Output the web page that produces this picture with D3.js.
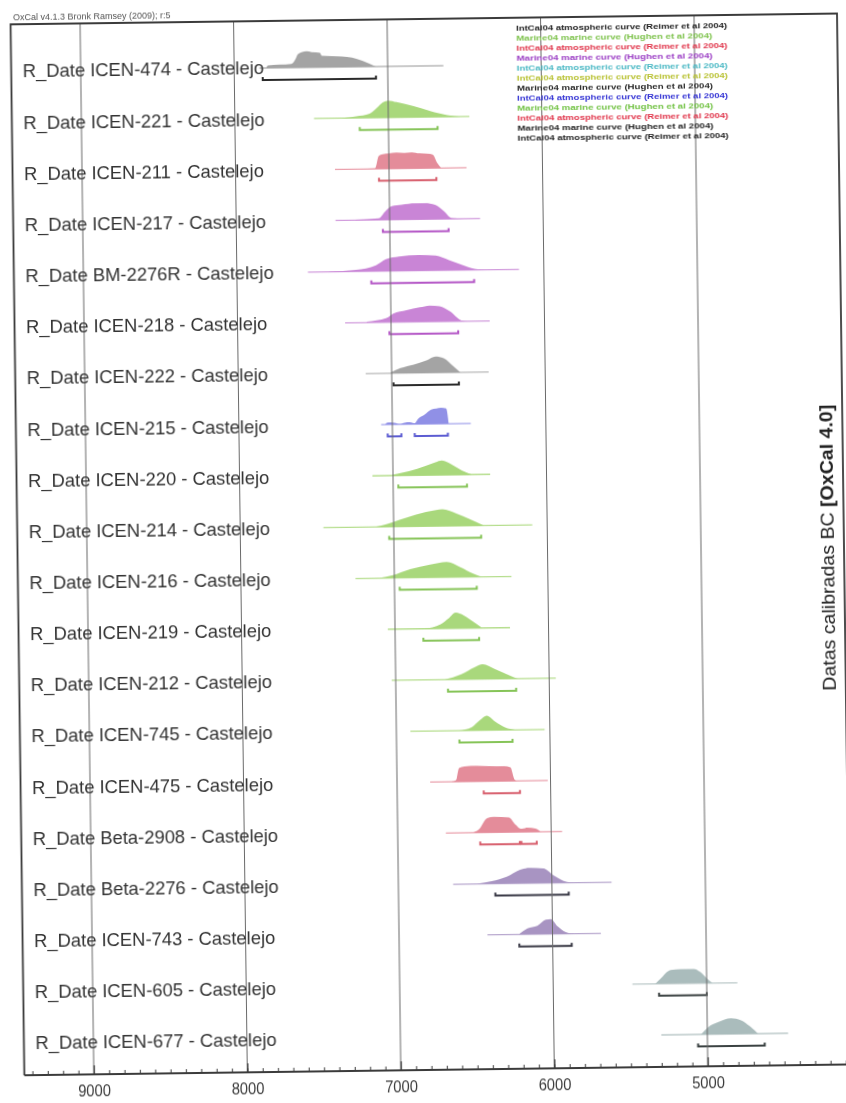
<!DOCTYPE html>
<html>
<head>
<meta charset="utf-8">
<script src="https://cdn.jsdelivr.net/npm/d3@7"></script>
<style>
  html, body { margin: 0; padding: 0; background: #fff; }
  svg { display: block; }
  text { font-family: "Liberation Sans", Arial, sans-serif; }
</style>
</head>
<body>
<svg id="chart" width="846" height="1103"></svg>
<script>
// sample labels, top to bottom
const labels = [
  "R_Date ICEN-474 - Castelejo", "R_Date ICEN-221 - Castelejo", "R_Date ICEN-211 - Castelejo",
  "R_Date ICEN-217 - Castelejo", "R_Date BM-2276R - Castelejo", "R_Date ICEN-218 - Castelejo",
  "R_Date ICEN-222 - Castelejo", "R_Date ICEN-215 - Castelejo", "R_Date ICEN-220 - Castelejo",
  "R_Date ICEN-214 - Castelejo", "R_Date ICEN-216 - Castelejo", "R_Date ICEN-219 - Castelejo",
  "R_Date ICEN-212 - Castelejo", "R_Date ICEN-745 - Castelejo", "R_Date ICEN-475 - Castelejo",
  "R_Date Beta-2908 - Castelejo", "R_Date Beta-2276 - Castelejo", "R_Date ICEN-743 - Castelejo",
  "R_Date ICEN-605 - Castelejo", "R_Date ICEN-677 - Castelejo",
];

// which curve group each sample is drawn in
const groups = [
  "grey", "green", "pink", "purple", "purple", "purple", "grey", "blue", "green", "green",
  "green", "green", "green", "green", "pink", "pink", "mauve", "mauve", "slate", "slate",
];

// calibrated probability profiles: [year BC, relative probability]
const profiles = [
  [[7790, 0], [7781, 0.15], [7627, 0.22], [7600, 0.5], [7583, 0.8], [7528, 0.95], [7495, 0.9], [7440, 0.85], [7429, 0.68], [7363, 0.65], [7297, 0.62], [7231, 0.55], [7165, 0.35], [7088, 0.05], [7075, 0]],
  [[7300, 0], [7209, 0.1], [7121, 0.25], [7077, 0.55], [7033, 0.9], [7000, 1.0], [6945, 0.9], [6835, 0.65], [6726, 0.35], [6616, 0.1], [6528, 0]],
  [[7300, 0], [7090, 0.04], [7066, 0.75], [7040, 0.85], [7000, 0.9], [6950, 0.95], [6900, 0.92], [6850, 0.95], [6800, 0.88], [6750, 0.85], [6714, 0.8], [6685, 0.3], [6660, 0]],
  [[7223, 0.03], [7071, 0.1], [7028, 0.5], [6985, 0.8], [6920, 0.88], [6833, 0.95], [6768, 0.95], [6703, 0.85], [6649, 0.5], [6595, 0.05], [6520, 0]],
  [[7396, 0.02], [7223, 0.1], [7093, 0.35], [7028, 0.7], [6942, 0.85], [6812, 0.92], [6703, 0.88], [6617, 0.6], [6531, 0.3], [6444, 0.05], [6380, 0]],
  [[7158, 0.05], [7028, 0.25], [6985, 0.5], [6898, 0.7], [6812, 0.85], [6747, 0.95], [6682, 0.9], [6617, 0.6], [6541, 0.05], [6500, 0]],
  [[7006, 0.05], [6942, 0.3], [6855, 0.5], [6768, 0.75], [6714, 0.95], [6660, 0.85], [6595, 0.35], [6552, 0]],
  [[7045, 0.02], [7029, 0.12], [6985, 0.1], [6952, 0.02], [6920, 0.1], [6887, 0.12], [6855, 0.05], [6833, 0.3], [6790, 0.55], [6746, 0.85], [6713, 0.9], [6681, 0.95], [6648, 0.9], [6633, 0]],
  [[7004, 0.05], [6896, 0.25], [6788, 0.55], [6723, 0.75], [6681, 0.85], [6616, 0.6], [6551, 0.25], [6486, 0]],
  [[7112, 0.02], [7047, 0.15], [6961, 0.4], [6853, 0.7], [6723, 0.95], [6681, 1.0], [6594, 0.75], [6507, 0.4], [6410, 0]],
  [[7091, 0.02], [7015, 0.15], [6896, 0.5], [6767, 0.75], [6658, 0.9], [6572, 0.6], [6486, 0.2], [6432, 0]],
  [[6810, 0], [6702, 0.25], [6648, 0.6], [6604, 0.92], [6551, 0.75], [6486, 0.35], [6432, 0]],
  [[6681, 0], [6572, 0.3], [6486, 0.7], [6432, 0.88], [6356, 0.6], [6270, 0.25], [6205, 0]],
  [[6594, 0], [6507, 0.2], [6454, 0.6], [6410, 0.85], [6356, 0.5], [6291, 0.15], [6227, 0]],
  [[6640, 0.02], [6615, 0.1], [6595, 0.8], [6560, 0.9], [6480, 0.92], [6400, 0.9], [6300, 0.88], [6260, 0.8], [6235, 0.1], [6220, 0]],
  [[6503, 0.03], [6470, 0.2], [6416, 0.85], [6373, 0.92], [6275, 0.88], [6232, 0.45], [6199, 0.2], [6156, 0.25], [6102, 0.2], [6069, 0]],
  [[6480, 0.02], [6391, 0.15], [6293, 0.4], [6206, 0.8], [6141, 0.9], [6054, 0.85], [5989, 0.45], [5902, 0.05], [5859, 0]],
  [[6217, 0.02], [6163, 0.35], [6098, 0.5], [6043, 0.85], [6010, 0.88], [5967, 0.45], [5913, 0.1], [5859, 0]],
  [[5332, 0.02], [5300, 0.3], [5235, 0.8], [5169, 0.85], [5083, 0.85], [5039, 0.65], [4996, 0.25], [4963, 0]],
  [[5039, 0.02], [4996, 0.4], [4930, 0.7], [4844, 0.92], [4779, 0.8], [4724, 0.45], [4670, 0]],
];

// extent of the thin likelihood line under each profile [from, to] BC
const spans = [
  [7836, 6637], [7484, 6472], [7352, 6495], [7353, 6411], [7537, 6162], [7299, 6357], [7169, 6368],
  [7073, 6489], [7134, 6367], [7458, 6097], [7253, 6237], [7047, 6251], [7026, 5957], [6909, 6034],
  [6784, 6018], [6686, 5929], [6643, 5611], [6424, 5685], [5484, 4800], [5300, 4474],
];

// 95.4% range bars (some split into pieces)
const ranges = [
  [[7815, 7077]], [[7187, 6680]], [[7066, 6692]], [[7045, 6617]], [[7125, 6455]], [[7011, 6563]],
  [[6989, 6563]], [[7031, 6942], [6855, 6639]], [[6966, 6519]], [[7030, 6431]], [[6966, 6464]],
  [[6816, 6453]], [[6660, 6216]], [[6590, 6244]], [[6436, 6200]], [[6463, 6205], [6195, 6095]],
  [[6369, 5891]], [[6217, 5876]], [[5311, 5000]], [[5061, 4627]],
];

const majorTicks = [9000, 8000, 7000, 6000, 5000];

const legendLines = [
  ["IntCal04 atmospheric curve (Reimer et al 2004)", "#222"],
  ["Marine04 marine curve (Hughen et al 2004)", "#7cc24a"],
  ["IntCal04 atmospheric curve (Reimer et al 2004)", "#e0344a"],
  ["Marine04 marine curve (Hughen et al 2004)", "#9a3cc4"],
  ["IntCal04 atmospheric curve (Reimer et al 2004)", "#4ab8c4"],
  ["IntCal04 atmospheric curve (Reimer et al 2004)", "#b9c234"],
  ["Marine04 marine curve (Hughen et al 2004)", "#2a2a2a"],
  ["IntCal04 atmospheric curve (Reimer et al 2004)", "#3434d4"],
  ["Marine04 marine curve (Hughen et al 2004)", "#72c244"],
  ["IntCal04 atmospheric curve (Reimer et al 2004)", "#e0344a"],
  ["Marine04 marine curve (Hughen et al 2004)", "#222"],
  ["IntCal04 atmospheric curve (Reimer et al 2004)", "#222"],
];

const palette = {
  grey:   { fill: "#a4a4a4", line: "#b8b8b8", bar: "#2a2a2a" },
  green:  { fill: "#a9d87c", line: "#b6de8e", bar: "#86c458" },
  pink:   { fill: "#e48c9a", line: "#eaa0ac", bar: "#d8606e" },
  purple: { fill: "#c985d6", line: "#d29ddd", bar: "#b457c6" },
  blue:   { fill: "#9090e6", line: "#a4a4ec", bar: "#5c5cd2" },
  mauve:  { fill: "#a894c2", line: "#b9a9cf", bar: "#3a3a46" },
  slate:  { fill: "#aabcbc", line: "#bccaca", bar: "#3a4242" },
};

const width = 846, height = 1103;
const frame = { left: 17.5, right: 844, top: 19, bottom: 1070 };

const svg = d3.select("#chart");
const defs = svg.append("defs");
defs.append("filter").attr("id", "scan")
  .append("feGaussianBlur").attr("stdDeviation", 0.45);

// the scan is tilted a little, so the whole plot is rotated
const root = svg.append("g")
  .attr("transform", "rotate(-0.75 423 550)")
  .attr("filter", "url(#scan)");

const x = d3.scaleLinear().domain([9000, 5000]).range([87, 701]);
const y = d3.scalePoint().domain(labels).range([66, 1038]);
const h = d3.scaleLinear().domain([0, 1]).range([0, 17]);

// profiles
const plots = root.append("g");
labels.forEach((label, i) => {
  const base = y(label);
  const col = palette[groups[i]];
  const g = plots.append("g");

  g.append("line")
    .attr("x1", x(spans[i][0])).attr("x2", x(spans[i][1]))
    .attr("y1", base).attr("y2", base)
    .attr("stroke", col.line).attr("stroke-width", 1.3);

  const pts = profiles[i].slice().sort((a, b) => b[0] - a[0]);
  const area = d3.area()
    .x((d) => x(d[0]))
    .y0(base)
    .y1((d) => base - h(d[1]))
    .curve(d3.curveMonotoneX);
  g.append("path").datum(pts).attr("d", area).attr("fill", col.fill);

  ranges[i].forEach((r) => {
    const yb = base + 12;
    g.append("path")
      .attr("d", `M${x(r[0])},${yb - 3}V${yb}H${x(r[1])}V${yb - 3}`)
      .attr("fill", "none")
      .attr("stroke", col.bar)
      .attr("stroke-width", 2);
  });
});

// grid lines at each millennium
root.append("g").selectAll("line").data(majorTicks).join("line")
  .attr("x1", (d) => x(d)).attr("x2", (d) => x(d))
  .attr("y1", frame.top).attr("y2", frame.bottom)
  .attr("stroke", "#6a6a6a").attr("stroke-width", 1);

// row labels
root.append("g").selectAll("text").data(labels).join("text")
  .attr("x", 29)
  .attr("y", (d) => y(d))
  .attr("dy", "0.35em")
  .attr("font-size", 18.4)
  .attr("fill", "#333")
  .text((d) => d);

// frame
root.append("path")
  .attr("d", `M${frame.left},${frame.bottom}V${frame.top}H${frame.right}V${frame.bottom}`)
  .attr("fill", "none").attr("stroke", "#3a3a3a").attr("stroke-width", 1.8);

// bottom axis: minor ticks every century, labelled millennia
const minorTicks = d3.range(9400, 4000, -100);
const axisY = frame.bottom;
root.append("g")
  .attr("transform", `translate(0,${axisY})`)
  .call(d3.axisBottom(x).tickValues(minorTicks).tickSize(-4).tickFormat(""))
  .call((g) => g.select(".domain").remove())
  .call((g) => g.selectAll("line").attr("stroke", "#3a3a3a"));

const axis = root.append("g")
  .attr("transform", `translate(0,${axisY})`)
  .call(d3.axisBottom(x).tickValues(majorTicks).tickSize(-9).tickPadding(10).tickFormat(d3.format("d")));
axis.select(".domain").remove();
axis.selectAll("line").attr("stroke", "#3a3a3a").attr("stroke-width", 1.3);
axis.selectAll("text")
  .attr("font-size", 16)
  .attr("font-family", "Liberation Sans, Arial, sans-serif")
  .attr("fill", "#3a3a3a")
  .attr("transform", "scale(0.92,1.05)");

root.append("line")
  .attr("x1", frame.left).attr("x2", frame.right)
  .attr("y1", axisY).attr("y2", axisY)
  .attr("stroke", "#3a3a3a").attr("stroke-width", 2);

// program header
root.append("text")
  .attr("x", 20).attr("y", 15)
  .attr("font-size", 9)
  .attr("fill", "#555")
  .text("OxCal v4.1.3 Bronk Ramsey (2009); r:5");

// curve legend
root.append("g").selectAll("text").data(legendLines).join("text")
  .attr("x", 523)
  .attr("y", (d, i) => 29.5 + i * 10)
  .attr("dy", "0.35em")
  .attr("font-size", 7.8)
  .attr("font-weight", "bold")
  .attr("fill", (d) => d[1])
  .attr("textLength", (d) => (d[0].startsWith("IntCal") ? 211 : 196))
  .attr("lengthAdjust", "spacingAndGlyphs")
  .text((d) => d[0]);

// vertical axis title
const title = root.append("text")
  .attr("transform", "translate(828,553) rotate(-90)")
  .attr("text-anchor", "middle")
  .attr("dy", "0.35em")
  .attr("font-size", 18)
  .attr("font-family", "'Open Sans', sans-serif")
  .attr("fill", "#222")
  .attr("textLength", 286)
  .attr("lengthAdjust", "spacingAndGlyphs");
title.append("tspan").text("Datas calibradas BC ");
title.append("tspan").attr("font-weight", "bold").text("[OxCal 4.0]");
</script>
</body>
</html>
